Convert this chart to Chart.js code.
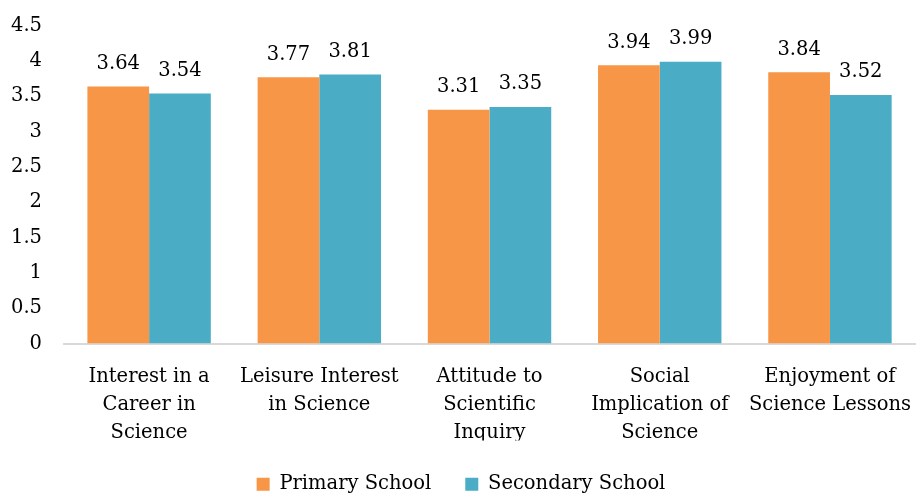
<!DOCTYPE html>
<html>
<head>
<meta charset="utf-8">
<script src="https://cdn.jsdelivr.net/npm/chart.js@4.4.0/dist/chart.umd.min.js"></script>
<style>
  html, body { margin:0; padding:0; background:#fff; }
  #wrap { width:922px; height:495px; }
</style>
</head>
<body>
<div id="wrap"><canvas id="chart" width="922" height="495"></canvas></div>
<script>
const categories = [
  ['Interest in a', 'Career in', 'Science'],
  ['Leisure Interest', 'in Science'],
  ['Attitude to', 'Scientific', 'Inquiry'],
  ['Social', 'Implication of', 'Science'],
  ['Enjoyment of', 'Science Lessons']
];
const primaryValues   = [3.64, 3.77, 3.31, 3.94, 3.84];
const secondaryValues = [3.54, 3.81, 3.35, 3.99, 3.52];
const yTicks = [0, 0.5, 1, 1.5, 2, 2.5, 3, 3.5, 4, 4.5];

const FONT = 'DejaVu Serif';
const SIZE = 19.5;

// draws value above each bar
const barValues = {
  id: 'barValues',
  afterDatasetsDraw(chart) {
    const ctx = chart.ctx;
    ctx.save();
    ctx.font = `${SIZE}px "${FONT}"`;
    ctx.fillStyle = '#000';
    ctx.textAlign = 'center';
    ctx.textBaseline = 'bottom';
    chart.data.datasets.forEach((ds, i) => {
      chart.getDatasetMeta(i).data.forEach((bar, j) => {
        ctx.fillText(ds.data[j].toFixed(2), bar.x, bar.y - 13);
      });
    });
    ctx.restore();
  }
};

new Chart(document.getElementById('chart').getContext('2d'), {
  type: 'bar',
  data: {
    labels: categories,
    datasets: [
      { label: 'Primary School',   data: primaryValues,   backgroundColor: '#F79646' },
      { label: 'Secondary School', data: secondaryValues, backgroundColor: '#4BACC6' }
    ]
  },
  options: {
    responsive: false,
    animation: false,
    categoryPercentage: 0.725,
    barPercentage: 1,
    layout: { padding: { top: -1, right: 0, left: 0, bottom: -9 } },
    plugins: {
      legend: {
        position: 'bottom',
        labels: { color:'#000', font:{ size:SIZE, family:FONT }, boxWidth:13, boxHeight:13, padding:34 }
      },
      tooltip: { enabled: false }
    },
    scales: {
      y: {
        min: 0, max: 4.5,
        afterBuildTicks: s => { s.ticks = yTicks.map(v => ({ value: v })); },
        afterFit: s => { s.width = 64; },
        grid: { display: false },
        border: { display: false },
        ticks: { color:'#000', font:{ size:SIZE, family:FONT }, padding: 14, callback: v => String(v) }
      },
      x: {
        afterFit: s => { s.height = 97; },
        grid: { display: false },
        border: { color:'#D9D9D9', width: 2 },
        ticks: { color:'#000', font:{ size:SIZE, family:FONT, lineHeight: 1.44 }, padding: 11, maxRotation: 0, autoSkip: false }
      }
    }
  },
  plugins: [barValues]
});
</script>
</body>
</html>
